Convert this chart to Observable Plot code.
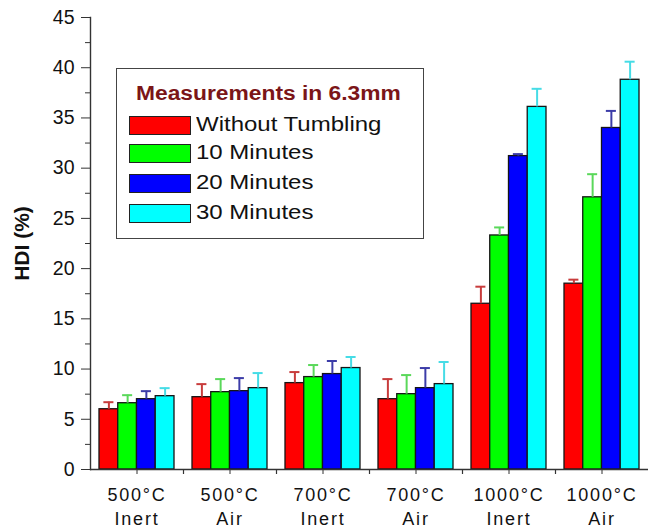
<!DOCTYPE html>
<html>
<head>
<meta charset="utf-8">
<script src="https://cdn.jsdelivr.net/npm/d3@7"></script>
<script src="https://cdn.jsdelivr.net/npm/@observablehq/plot@0.6"></script>
<style>
  html, body { margin: 0; padding: 0; background: #fff; }
  #wrap { position: relative; width: 648px; height: 530px; font-family: Arial, "Liberation Sans", sans-serif; }
  #legend { position: absolute; left: 116px; top: 68px; width: 306px; height: 169px; border: 1.5px solid #444; background: #fff; }
  #legend .title { position: absolute; left: 19px; top: 13px; font-weight: bold; font-size: 20px; color: #7b1518; white-space: nowrap; transform: scaleX(1.14); transform-origin: left center; }
  #legend .item { position: absolute; left: 12px; height: 20px; white-space: nowrap; }
  #legend .sw { position: absolute; left: 0; top: 0; width: 60px; height: 17px; border: 1.5px solid #222; }
  #legend .lab { position: absolute; left: 67px; top: -3px; font-size: 20px; color: #111; transform: scaleX(1.2); transform-origin: left center; }
</style>
</head>
<body>
<div id="wrap"></div>
<script>
// ---- data ----
const categories = ["500°C Inert", "500°C Air", "700°C Inert", "700°C Air", "1000°C Inert", "1000°C Air"];
const tempLabels = ["500°C", "500°C", "700°C", "700°C", "1000°C", "1000°C"];
const atmLabels = ["Inert", "Air", "Inert", "Air", "Inert", "Air"];
const seriesNames = ["Without Tumbling", "10 Minutes", "20 Minutes", "30 Minutes"];
const legendTitle = "Measurements in 6.3mm";

const withoutTumbling = [6.0, 7.2, 8.6, 7.0, 16.5, 18.5];
const minutes10 = [6.6, 7.7, 9.2, 7.5, 23.3, 27.1];
const minutes20 = [7.0, 7.8, 9.5, 8.1, 31.2, 34.0];
const minutes30 = [7.3, 8.1, 10.1, 8.5, 36.1, 38.8];

const sdWithout = [0.7, 1.3, 1.1, 2.0, 1.7, 0.4];
const sd10 = [0.8, 1.3, 1.2, 1.9, 0.8, 2.3];
const sd20 = [0.8, 1.3, 1.3, 2.0, 0.2, 1.7];
const sd30 = [0.8, 1.5, 1.1, 2.2, 1.8, 1.8];

const yTicks = [0, 5, 10, 15, 20, 25, 30, 35, 40, 45];
const yMinorTicks = [2.5, 7.5, 12.5, 17.5, 22.5, 27.5, 32.5, 37.5, 42.5];

const barColors = ["#ff0000", "#00ff00", "#0000ff", "#00ffff"];
const errColors = ["#c83c3c", "#5ad85a", "#3c3ca8", "#46dce6"];

// ---- layout ----
const W = 648, H = 530;
const mL = 90, mR = 0, mT = 17, mB = 61;
const padIn = 0.194, padOut = 0.097;
const step = (W - mL - mR) / (categories.length - padIn + 2 * padOut);
const bw = step * (1 - padIn);
const w = bw / 4;

const valueSets = [withoutTumbling, minutes10, minutes20, minutes30];
const sdSets = [sdWithout, sd10, sd20, sd30];
const seriesRows = valueSets.map((vals, i) =>
  categories.map((c, j) => ({cat: c, series: seriesNames[i], value: vals[j], sd: sdSets[i][j]}))
);

const marks = [];
seriesRows.forEach((rows, i) => {
  marks.push(Plot.barY(rows, {
    x: "cat", y: "value", fill: barColors[i], stroke: "#151515", strokeWidth: 1.3,
    insetLeft: i * w, insetRight: (3 - i) * w
  }));
});
seriesRows.forEach((rows, i) => {
  marks.push(Plot.ruleX(rows, {
    x: "cat", y1: "value", y2: d => d.value + d.sd, dx: (i - 1.5) * w,
    stroke: errColors[i], strokeWidth: 2
  }));
  marks.push(Plot.tickY(rows, {
    x: "cat", y: d => d.value + d.sd,
    insetLeft: (i + 0.5) * w - 5, insetRight: bw - (i + 0.5) * w - 5,
    stroke: errColors[i], strokeWidth: 2
  }));
});

const chart = Plot.plot({
  width: W, height: H,
  marginLeft: mL, marginRight: mR, marginTop: mT, marginBottom: mB,
  style: {fontFamily: "Arial, 'Liberation Sans', sans-serif", color: "#111", background: "#fff"},
  x: {type: "band", domain: categories, paddingInner: padIn, paddingOuter: padOut, axis: null},
  y: {domain: [0, 45], axis: null},
  marks: [
    ...marks,
    Plot.ruleY([0], {stroke: "#333", strokeWidth: 1.4}),
    Plot.frame({anchor: "left", stroke: "#333", strokeWidth: 1.4}),
    Plot.axisY({ticks: yTicks, tickSize: 9, tickPadding: 7, fontSize: 19.5, label: null, tickFormat: d => String(d), stroke: "#333"}),
    Plot.axisY({ticks: yMinorTicks, tickSize: 5, tickFormat: () => "", label: null, stroke: "#333"}),
    Plot.axisX({tickSize: 5, tickFormat: () => "", label: null, stroke: "#333"}),
    Plot.ruleX(categories.slice(0, categories.length - 1), {x: d => d, y1: 0, y2: -0.5, dx: step / 2, stroke: "#333", strokeWidth: 1.2}),
    Plot.text(categories, {
      x: d => d, y: 0,
      text: (d, i) => tempLabels[i] + "\n" + atmLabels[i],
      lineAnchor: "top", dy: 14, fontSize: 18, lineHeight: 1.36, fill: "#111"
    }),
    Plot.text(["HDI (%)"], {frameAnchor: "left", textAnchor: "middle", rotate: -90, dx: -68, fontSize: 21, fontWeight: "bold", fill: "#111"})
  ]
});

const wrap = document.getElementById("wrap");
wrap.appendChild(chart);

// letter spacing for category labels
d3.select(chart).selectAll("text").each(function() {
  const t = this.textContent;
  if (t.includes("°C")) this.style.letterSpacing = "1.8px";
});

// legend
const legend = document.createElement("div");
legend.id = "legend";
const title = document.createElement("div");
title.className = "title";
title.textContent = legendTitle;
legend.appendChild(title);
const itemTops = [47, 75, 105, 135];
seriesNames.forEach((name, i) => {
  const item = document.createElement("div");
  item.className = "item";
  item.style.top = itemTops[i] + "px";
  const sw = document.createElement("div");
  sw.className = "sw";
  sw.style.background = barColors[i];
  const lab = document.createElement("div");
  lab.className = "lab";
  lab.textContent = name;
  item.appendChild(sw);
  item.appendChild(lab);
  legend.appendChild(item);
});
wrap.appendChild(legend);
</script>
</body>
</html>
